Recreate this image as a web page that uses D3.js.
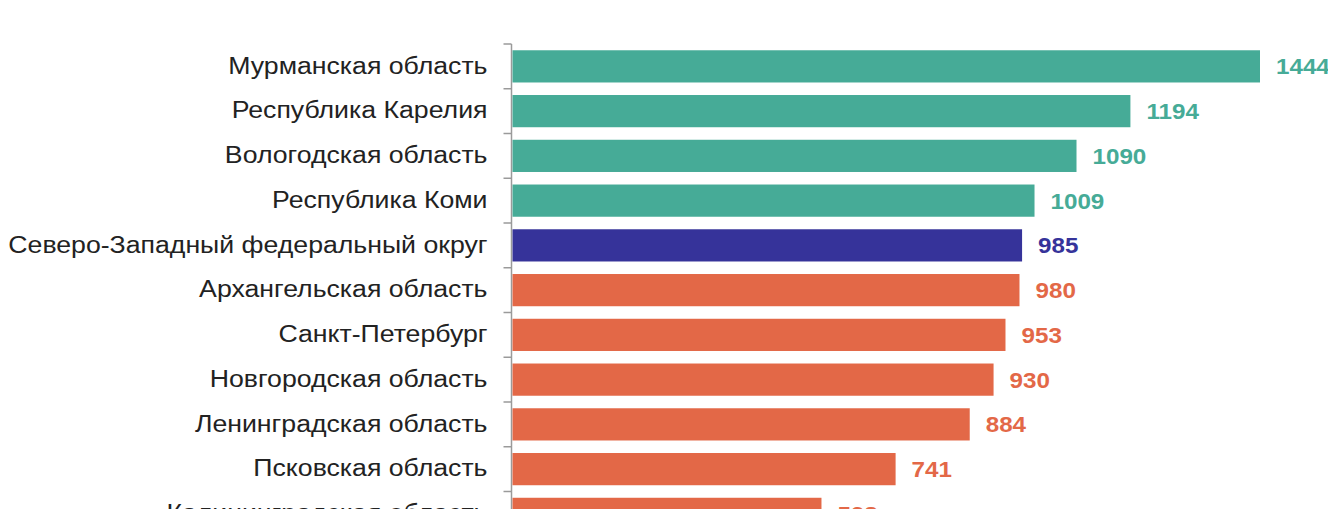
<!DOCTYPE html>
<html><head><meta charset="utf-8">
<script src="https://cdn.jsdelivr.net/npm/d3@7"></script>
<style>html,body{margin:0;padding:0;background:#fff;overflow:hidden}</style>
</head><body>
<svg id="c" width="1328" height="509"></svg>
<script>
const categories = ["Мурманская область","Республика Карелия","Вологодская область","Республика Коми","Северо-Западный федеральный округ","Архангельская область","Санкт-Петербург","Новгородская область","Ленинградская область","Псковская область","Калининградская область"];
const values = [1444,1194,1090,1009,985,980,953,930,884,741,598];
const groups = ["high","high","high","high","district","low","low","low","low","low","low"];
const colors = {high:"#46AB97", district:"#36339A", low:"#E36847"};

const svg = d3.select("#c");
const x0 = 511.5;
const x = d3.scaleLinear().domain([0,1444]).range([x0,1260]);
const y = d3.scaleBand().domain(categories).range([44, 44+44.75*11]).paddingInner(0.28).paddingOuter(0.14);

const ax = svg.append("g").attr("transform",`translate(${x0},0)`)
  .call(d3.axisLeft(y).tickSize(0).tickSizeOuter(0));
ax.select(".domain").remove();
ax.selectAll(".tick text")
  .attr("x",0)
  .attr("transform","translate(-24,0) scale(1.16,1)")
  .attr("font-family","Liberation Sans, Arial, sans-serif").attr("font-size",23).attr("fill","#222");
// boundary ticks between bands
const bounds = d3.range(categories.length+1).map(i=>44+i*44.75);
svg.append("g").selectAll("line").data(bounds).join("line")
  .attr("x1",x0-8).attr("x2",x0).attr("y1",d=>d).attr("y2",d=>d)
  .attr("stroke","#9a9a9a").attr("stroke-width",1.5);
svg.append("line").attr("x1",x0).attr("x2",x0).attr("y1",44).attr("y2",520).attr("stroke","#9a9a9a").attr("stroke-width",1.5);

svg.append("g").selectAll("rect").data(categories).join("rect")
  .attr("x",x(0)+1).attr("y",d=>y(d)).attr("height",y.bandwidth())
  .attr("width",(d,i)=>x(values[i])-x(0)-1)
  .attr("fill",(d,i)=>colors[groups[i]]);

svg.append("g").selectAll("text").data(categories).join("text")
  .attr("transform",(d,i)=>`translate(${x(values[i])+16},${y(d)+y.bandwidth()/2}) scale(1.1,1)`)
  .attr("dy","0.36em")
  .attr("font-family","Liberation Sans, Arial, sans-serif").attr("font-weight","bold").attr("font-size",22)
  .attr("fill",(d,i)=>colors[groups[i]])
  .text((d,i)=>values[i]);
</script>
</body></html>
